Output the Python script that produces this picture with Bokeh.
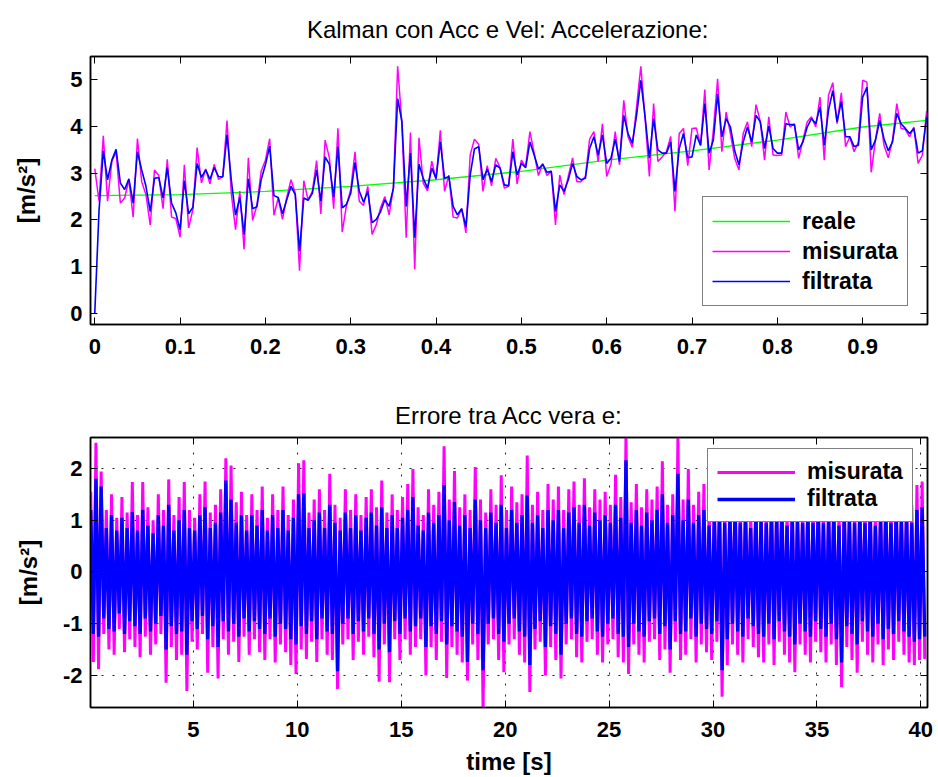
from bokeh.plotting import figure
from bokeh.layouts import column
from bokeh.models import (Range1d, LinearAxis, FixedTicker, Legend, LegendItem,
                          CustomJSTickFormatter)
from bokeh.embed import file_html
from bokeh.resources import INLINE

# ---------------- data: top plot (acceleration, dt = 0.005 s) ----------------
DT = 0.005
misurata = [
    3.1, 2.4, 3.8, 2.4, 3.25, 3.46, 2.36, 2.47, 2.86, 2.06,
    3.74, 2.82, 2.54, 1.89, 3.07, 2.95, 2.24, 3.3, 2.06, 2.03,
    1.63, 3.18, 1.83, 2.22, 3.55, 2.79, 3.09, 2.77, 3.19, 2.87,
    2.93, 4.13, 2.57, 1.79, 2.62, 1.37, 3.33, 1.99, 2.31, 3.04,
    3.28, 3.74, 2.1, 2.47, 2.01, 2.48, 2.86, 2.57, 0.91, 2.84,
    2.43, 2.61, 3.27, 2.13, 3.71, 3.33, 2.24, 3.96, 1.74, 2.31,
    2.65, 3.46, 2.4, 2.31, 2.72, 1.69, 1.9, 2.26, 2.5, 2.11,
    2.68, 5.29, 4.06, 1.62, 3.87, 0.94, 3.76, 2.79, 2.62, 3.26,
    2.86, 3.92, 2.61, 2.96, 2.06, 2.04, 2.24, 1.72, 3.39, 3.73,
    3.62, 2.61, 3.16, 2.73, 3.32, 3.12, 2.68, 2.72, 3.73, 2.77,
    3.28, 3.14, 3.89, 3.43, 2.95, 3.21, 2.95, 3.05, 1.89, 2.96,
    2.54, 2.93, 3.33, 2.82, 2.82, 2.93, 3.73, 3.89, 3.25, 4.06,
    2.93, 3.19, 3.89, 3.18, 4.56, 3.78, 3.55, 4.42, 5.29, 4.18,
    2.93, 4.49, 3.25, 3.35, 3.46, 3.79, 2.18, 3.85, 3.96, 3.16,
    3.96, 3.97, 3.59, 4.79, 3.07, 3.92, 5.02, 3.46, 4.31, 3.85,
    3.32, 3.07, 3.85, 4.1, 3.57, 4.47, 4.11, 3.28, 4.21, 3.39,
    3.38, 3.39, 4.31, 3.99, 4.06, 3.32, 3.71, 4.1, 4.21, 3.99,
    4.63, 3.28, 4.67, 4.94, 4.06, 4.72, 3.57, 3.78, 3.46, 3.67,
    4.99, 4.95, 3.02, 3.71, 4.28, 3.6, 3.33, 3.71, 4.49, 3.96,
    3.94, 3.78, 3.99, 3.21, 3.39, 4.33,
]
filtrata = [
    0.0, 2.2, 3.48, 2.86, 3.28, 3.51, 2.79, 2.65, 2.88, 2.36,
    3.46, 3.07, 2.72, 2.18, 2.89, 2.91, 2.47, 3.12, 2.36, 2.15,
    1.79, 2.84, 2.13, 2.27, 3.21, 2.91, 3.07, 2.87, 3.12, 2.93,
    2.92, 3.82, 2.86, 2.1, 2.48, 1.69, 2.88, 2.24, 2.28, 2.86,
    3.18, 3.58, 2.52, 2.48, 2.13, 2.43, 2.72, 2.54, 1.33, 2.47,
    2.42, 2.57, 3.07, 2.4, 3.35, 3.19, 2.49, 3.57, 2.26, 2.33,
    2.57, 3.23, 2.62, 2.38, 2.61, 1.94, 2.01, 2.18, 2.43, 2.29,
    2.68, 4.6, 4.1, 2.29, 3.43, 1.62, 3.19, 2.89, 2.68, 3.11,
    2.89, 3.67, 2.89, 2.93, 2.29, 2.11, 2.24, 1.85, 2.96, 3.52,
    3.57, 2.86, 3.09, 2.82, 3.18, 3.11, 2.75, 2.73, 3.46, 2.96,
    3.21, 3.12, 3.67, 3.39, 3.09, 3.19, 3.02, 3.04, 2.18, 2.75,
    2.61, 2.86, 3.21, 2.93, 2.86, 2.89, 3.53, 3.78, 3.39, 3.82,
    3.21, 3.32, 3.73, 3.25, 4.24, 3.85, 3.64, 4.24, 4.99, 4.21,
    3.32, 4.17, 3.5, 3.43, 3.43, 3.67, 2.61, 3.53, 3.85, 3.33,
    3.35, 3.82, 3.6, 4.49, 3.43, 3.71, 4.7, 3.78, 4.17, 3.99,
    3.48, 3.18, 3.67, 3.99, 3.67, 4.24, 4.1, 3.53, 4.01, 3.53,
    3.43, 3.43, 4.06, 4.04, 4.04, 3.5, 3.67, 3.99, 4.17, 4.06,
    4.42, 3.6, 4.35, 4.77, 4.1, 4.54, 3.78, 3.78, 3.57, 3.6,
    4.63, 4.84, 3.5, 3.71, 4.13, 3.74, 3.48, 3.67, 4.28, 4.06,
    3.96, 3.85, 3.96, 3.43, 3.48, 4.21,
]
t_acc = [round(DT * i, 3) for i in range(len(misurata))]

reale_t = [0.0, 0.1, 0.2, 0.3, 0.4, 0.5, 0.6, 0.7, 0.8, 0.9, 0.975]
reale = [2.52, 2.54, 2.61, 2.72, 2.86, 3.04, 3.28, 3.48, 3.71, 3.99, 4.13]

acc_xticks = [0, 0.1, 0.2, 0.3, 0.4, 0.5, 0.6, 0.7, 0.8, 0.9]
acc_yticks = [0, 1, 2, 3, 4, 5]

# ------------- data: bottom plot (error envelope per 0.25 s bin) -------------
BIN = 0.25
err_mis_hi = [
    1.55, 2.5, 1.94, 1.2, 1.5, 1.05, 1.45, 1.15, 1.74, 1.1,
    1.74, 1.25, 1.0, 1.5, 1.2, 1.79, 1.1, 1.45, 1.74, 1.2,
    1.05, 1.5, 1.75, 1.15, 1.3, 1.6, 2.2, 2.06, 1.35, 1.55,
    1.1, 1.5, 1.2, 1.65, 1.05, 1.5, 1.2, 1.65, 1.1, 1.4,
    2.1, 2.16, 1.15, 1.4, 1.6, 1.2, 1.9, 1.3, 1.05, 1.6,
    1.2, 1.5, 1.1, 1.45, 1.6, 1.25, 1.77, 1.15, 1.5, 1.2,
    1.45, 1.7, 1.99, 1.25, 1.1, 1.6, 1.3, 1.55, 2.43, 1.4,
    1.95, 1.25, 1.5, 1.2, 2.03, 1.4, 1.15, 1.6, 1.3, 1.87,
    1.2, 1.65, 1.35, 1.5, 2.25, 1.3, 1.55, 1.2, 1.7, 1.4,
    1.65, 1.2, 1.6, 1.75, 1.3, 1.81, 1.25, 1.6, 1.4, 1.55,
    1.3, 1.88, 1.45, 2.6, 1.35, 1.7, 1.25, 1.6, 1.4, 1.65,
    2.14, 1.3, 1.5, 2.6, 1.4, 1.99, 1.3, 1.55, 1.7, 1.25,
    1.45, 1.6, 1.3, 1.5, 1.7, 1.35, 1.55, 1.2, 1.65, 1.4,
    1.3, 1.6, 1.45, 1.7, 1.25, 1.55, 1.4, 1.3, 1.6, 1.35,
    1.7, 1.3, 1.45, 1.6, 1.25, 1.55, 1.4, 1.3, 1.65, 1.35,
    1.6, 1.25, 1.45, 1.7, 1.3, 1.6, 1.4, 1.55, 1.3, 1.68,
    1.75,
]
err_mis_lo = [
    -1.74, -1.88, -1.2, -1.5, -1.6, -1.1, -1.55, -1.3, -1.45, -1.65,
    -1.25, -1.6, -1.4, -1.2, -2.14, -1.45, -1.7, -1.6, -2.3, -1.35,
    -1.5, -1.2, -1.95, -1.45, -2.06, -1.3, -1.6, -1.35, -1.74, -1.25,
    -1.6, -1.3, -1.55, -1.7, -1.3, -1.75, -1.4, -1.55, -1.8, -1.97,
    -1.5, -1.68, -1.35, -1.74, -1.3, -1.6, -1.7, -2.26, -1.4, -1.3,
    -1.7, -1.35, -1.6, -1.25, -1.65, -2.12, -1.4, -2.13, -1.3, -1.7,
    -1.3, -1.6, -1.45, -1.3, -2.0, -1.45, -1.7, -1.35, -2.05, -1.45,
    -1.6, -1.75, -2.1, -1.4, -1.7, -2.65, -1.4, -1.3, -1.7, -1.94,
    -1.4, -1.3, -1.6, -1.75, -2.32, -1.5, -1.35, -2.0, -1.45, -1.7,
    -2.06, -1.4, -1.3, -1.65, -1.75, -1.35, -1.3, -1.6, -1.75, -1.4,
    -1.3, -1.65, -1.75, -1.97, -1.4, -1.6, -1.75, -1.35, -1.3, -1.7,
    -1.5, -1.95, -1.35, -1.7, -1.6, -1.3, -1.75, -1.4, -1.55, -1.7,
    -1.35, -2.41, -1.8, -1.4, -1.6, -1.75, -1.3, -1.45, -1.65, -1.75,
    -1.4, -1.8, -1.35, -1.6, -1.75, -1.94, -1.4, -1.6, -1.75, -1.35,
    -1.55, -1.75, -1.4, -1.8, -2.23, -1.45, -1.7, -1.95, -1.35, -1.6,
    -1.75, -1.4, -1.8, -1.5, -1.7, -1.35, -1.6, -1.75, -1.8, -1.7,
    -1.68,
]
err_fil_hi = [
    1.2, 1.8, 1.65, 0.85, 1.1, 0.8, 1.05, 0.85, 1.16, 0.8,
    1.2, 0.9, 0.75, 1.1, 0.9, 1.3, 0.8, 1.0, 1.2, 0.85,
    0.8, 1.1, 1.25, 0.85, 0.95, 1.15, 1.77, 1.4, 0.95, 1.1,
    0.8, 1.1, 0.9, 1.2, 0.8, 1.1, 0.85, 1.2, 0.8, 1.05,
    1.5, 1.52, 0.85, 1.0, 1.15, 0.85, 1.3, 0.95, 0.8, 1.15,
    0.85, 1.1, 0.8, 1.05, 1.15, 0.9, 1.25, 0.85, 1.1, 0.85,
    1.05, 1.2, 1.45, 0.9, 0.8, 1.15, 0.95, 1.1, 1.68, 1.0,
    1.35, 0.9, 1.1, 0.85, 1.4, 1.0, 0.85, 1.15, 0.95, 1.3,
    0.85, 1.2, 0.95, 1.1, 1.48, 0.95, 1.1, 0.85, 1.2, 1.0,
    1.2, 0.85, 1.15, 1.25, 0.95, 1.3, 0.9, 1.15, 1.0, 1.1,
    0.95, 1.3, 1.05, 2.16, 0.95, 1.2, 0.9, 1.15, 1.0, 1.2,
    1.5, 0.95, 1.1, 1.9, 1.0, 1.4, 0.95, 1.1, 1.2, 0.9,
    1.05, 1.15, 0.95, 1.1, 1.2, 0.95, 1.1, 0.85, 1.15, 1.0,
    0.95, 1.15, 1.05, 1.2, 0.9, 1.1, 1.0, 0.95, 1.15, 0.95,
    1.2, 0.95, 1.05, 1.15, 0.9, 1.1, 1.0, 0.95, 1.15, 0.95,
    1.15, 0.9, 1.05, 1.2, 0.95, 1.15, 1.0, 1.1, 0.95, 1.2,
    1.25,
]
err_fil_lo = [
    -1.2, -1.25, -0.9, -1.1, -1.15, -0.8, -1.2, -0.95, -1.05, -1.2,
    -0.9, -1.15, -1.0, -0.85, -1.5, -1.05, -1.2, -1.15, -1.6, -0.95,
    -1.1, -0.85, -1.3, -1.05, -1.45, -0.95, -1.15, -1.0, -1.25, -0.9,
    -1.15, -0.95, -1.1, -1.2, -0.9, -1.25, -1.0, -1.1, -1.3, -1.4,
    -1.05, -1.2, -0.95, -1.3, -0.9, -1.15, -1.2, -1.92, -1.0, -0.9,
    -1.2, -0.95, -1.15, -0.9, -1.2, -1.5, -1.0, -1.55, -0.95, -1.2,
    -0.9, -1.15, -1.05, -0.9, -1.45, -1.05, -1.2, -0.95, -1.4, -1.05,
    -1.15, -1.25, -1.74, -1.0, -1.2, -1.9, -1.0, -0.9, -1.2, -1.35,
    -1.0, -0.9, -1.15, -1.25, -1.8, -1.1, -0.95, -1.45, -1.05, -1.2,
    -1.6, -1.0, -0.9, -1.2, -1.25, -0.95, -0.9, -1.15, -1.25, -1.0,
    -0.9, -1.2, -1.25, -1.45, -1.0, -1.15, -1.25, -0.95, -0.9, -1.2,
    -1.05, -1.5, -0.95, -1.2, -1.15, -0.9, -1.25, -1.0, -1.1, -1.2,
    -0.95, -1.9, -1.3, -1.0, -1.15, -1.25, -0.9, -1.05, -1.2, -1.25,
    -1.0, -1.3, -0.95, -1.15, -1.25, -1.4, -1.0, -1.15, -1.25, -0.95,
    -1.1, -1.25, -1.0, -1.3, -1.75, -1.05, -1.2, -1.4, -0.95, -1.15,
    -1.25, -1.0, -1.3, -1.1, -1.2, -0.95, -1.15, -1.25, -1.35, -1.3,
    -1.25,
]
err_t = [round(BIN / 2 + BIN * k, 3) for k in range(len(err_mis_hi))]

err_xticks = [5, 10, 15, 20, 25, 30, 35, 40]
err_yticks = [-2, -1, 0, 1, 2]

# ------------------------------- styling -------------------------------------
FONT = "Liberation Sans"
GREEN, MAGENTA, BLUE = "#00ff00", "#ff00ff", "#0000ff"
fmt_code = "return (Math.round(tick*1000)/1000).toString();"


def box_axis(ticks):
    return LinearAxis(ticker=FixedTicker(ticks=ticks),
                      formatter=CustomJSTickFormatter(code="return '';"),
                      major_label_text_font_size="1px", major_label_standoff=0,
                      major_tick_in=7, major_tick_out=0, minor_tick_line_color=None,
                      axis_line_color="black", axis_line_width=1.5)


def style_axes(p, xticks, yticks, ylabel_standoff, title_standoff):
    p.outline_line_color = "black"
    p.outline_line_width = 1.5
    p.background_fill_color = "white"
    p.border_fill_color = "white"
    xa, ya = p.below[0], p.left[0]
    for ax in (xa, ya):
        ax.major_label_text_font = FONT
        ax.major_label_text_font_style = "bold"
        ax.major_label_text_font_size = "22px"
        ax.major_label_text_color = "black"
        ax.major_tick_in = 7
        ax.major_tick_out = 0
        ax.minor_tick_line_color = None
        ax.axis_line_color = "black"
        ax.axis_line_width = 1.5
        ax.major_tick_line_color = "black"
        ax.formatter = CustomJSTickFormatter(code=fmt_code)
        ax.axis_label_text_font = FONT
        ax.axis_label_text_font_style = "bold"
        ax.axis_label_text_font_size = "24px"
        ax.axis_label_text_color = "black"
    xa.ticker = FixedTicker(ticks=xticks)
    ya.ticker = FixedTicker(ticks=yticks)
    xa.major_label_standoff = 14
    ya.major_label_standoff = 8
    ya.axis_label = "[m/s²]"
    ya.axis_label_standoff = ylabel_standoff
    p.add_layout(box_axis(xticks), "above")
    p.add_layout(box_axis(yticks), "right")
    p.title.text_font = FONT
    p.title.text_font_size = "24px"
    p.title.text_font_style = "normal"
    p.title.align = "center"
    p.title.text_color = "black"
    p.title.standoff = title_standoff
    return xa, ya


def make_legend(items, loc, label_height):
    lg = Legend(items=items, location=loc)
    lg.label_text_font = FONT
    lg.label_text_font_style = "bold"
    lg.label_text_font_size = "23px"
    lg.label_text_color = "black"
    lg.glyph_width = 78
    lg.glyph_height = 20
    lg.label_standoff = 12
    lg.label_height = label_height
    lg.spacing = 0
    lg.padding = 9
    lg.margin = 0
    lg.border_line_color = "black"
    lg.border_line_width = 1
    lg.background_fill_color = "white"
    lg.background_fill_alpha = 1
    return lg


# ------------------------------- top plot ------------------------------------
p1 = figure(width=938, height=380, output_backend="svg", toolbar_location=None,
            title="Kalman con Acc e Vel: Accelerazione:",
            x_range=Range1d(-0.005, 0.976), y_range=Range1d(-0.24, 5.5),
            min_border_left=90, min_border_right=11, min_border_top=54, min_border_bottom=56)
p1.grid.visible = False
r_g = p1.line(reale_t, reale, line_color=GREEN, line_width=1.3)
r_m = p1.line(t_acc, misurata, line_color=MAGENTA, line_width=1.5)
r_b = p1.line(t_acc, filtrata, line_color=BLUE, line_width=1.6)
style_axes(p1, acc_xticks, acc_yticks, 27, 27)
p1.add_layout(make_legend([LegendItem(label="reale", renderers=[r_g]),
                           LegendItem(label="misurata", renderers=[r_m]),
                           LegendItem(label="filtrata", renderers=[r_b])],
                          (612, 18), 30))

# ------------------------------ bottom plot ----------------------------------
def zigzag(hi, lo):
    xs, ys = [], []
    for t, h, l in zip(err_t, hi, lo):
        xs += [t - BIN / 4, t + BIN / 4]
        ys += [h, l]
    return xs, ys


p2 = figure(width=938, height=397, output_backend="svg", toolbar_location=None,
            title="Errore tra Acc vera e:",
            x_range=Range1d(0.05, 40.32), y_range=Range1d(-2.62, 2.6),
            min_border_left=89, min_border_right=11, min_border_top=57, min_border_bottom=70)
p2.grid.grid_line_color = "#222222"
p2.grid.grid_line_dash = "2 9"
p2.grid.grid_line_width = 1
mx, my = zigzag(err_mis_hi, err_mis_lo)
fx, fy = zigzag(err_fil_hi, err_fil_lo)
r_m2 = p2.line(mx, my, line_color=MAGENTA, line_width=3.0)
r_b2 = p2.line(fx, fy, line_color=BLUE, line_width=3.3)
xa2, ya2 = style_axes(p2, err_xticks, err_yticks, 18, 18)
xa2.axis_label = "time [s]"
xa2.axis_label_standoff = 8
p2.add_layout(make_legend([LegendItem(label="misurata", renderers=[r_m2]),
                           LegendItem(label="filtrata", renderers=[r_b2])],
                          (617, 185), 27))

layout = column(p1, p2, spacing=0)
open("out.html", "w").write(file_html(layout, INLINE))
